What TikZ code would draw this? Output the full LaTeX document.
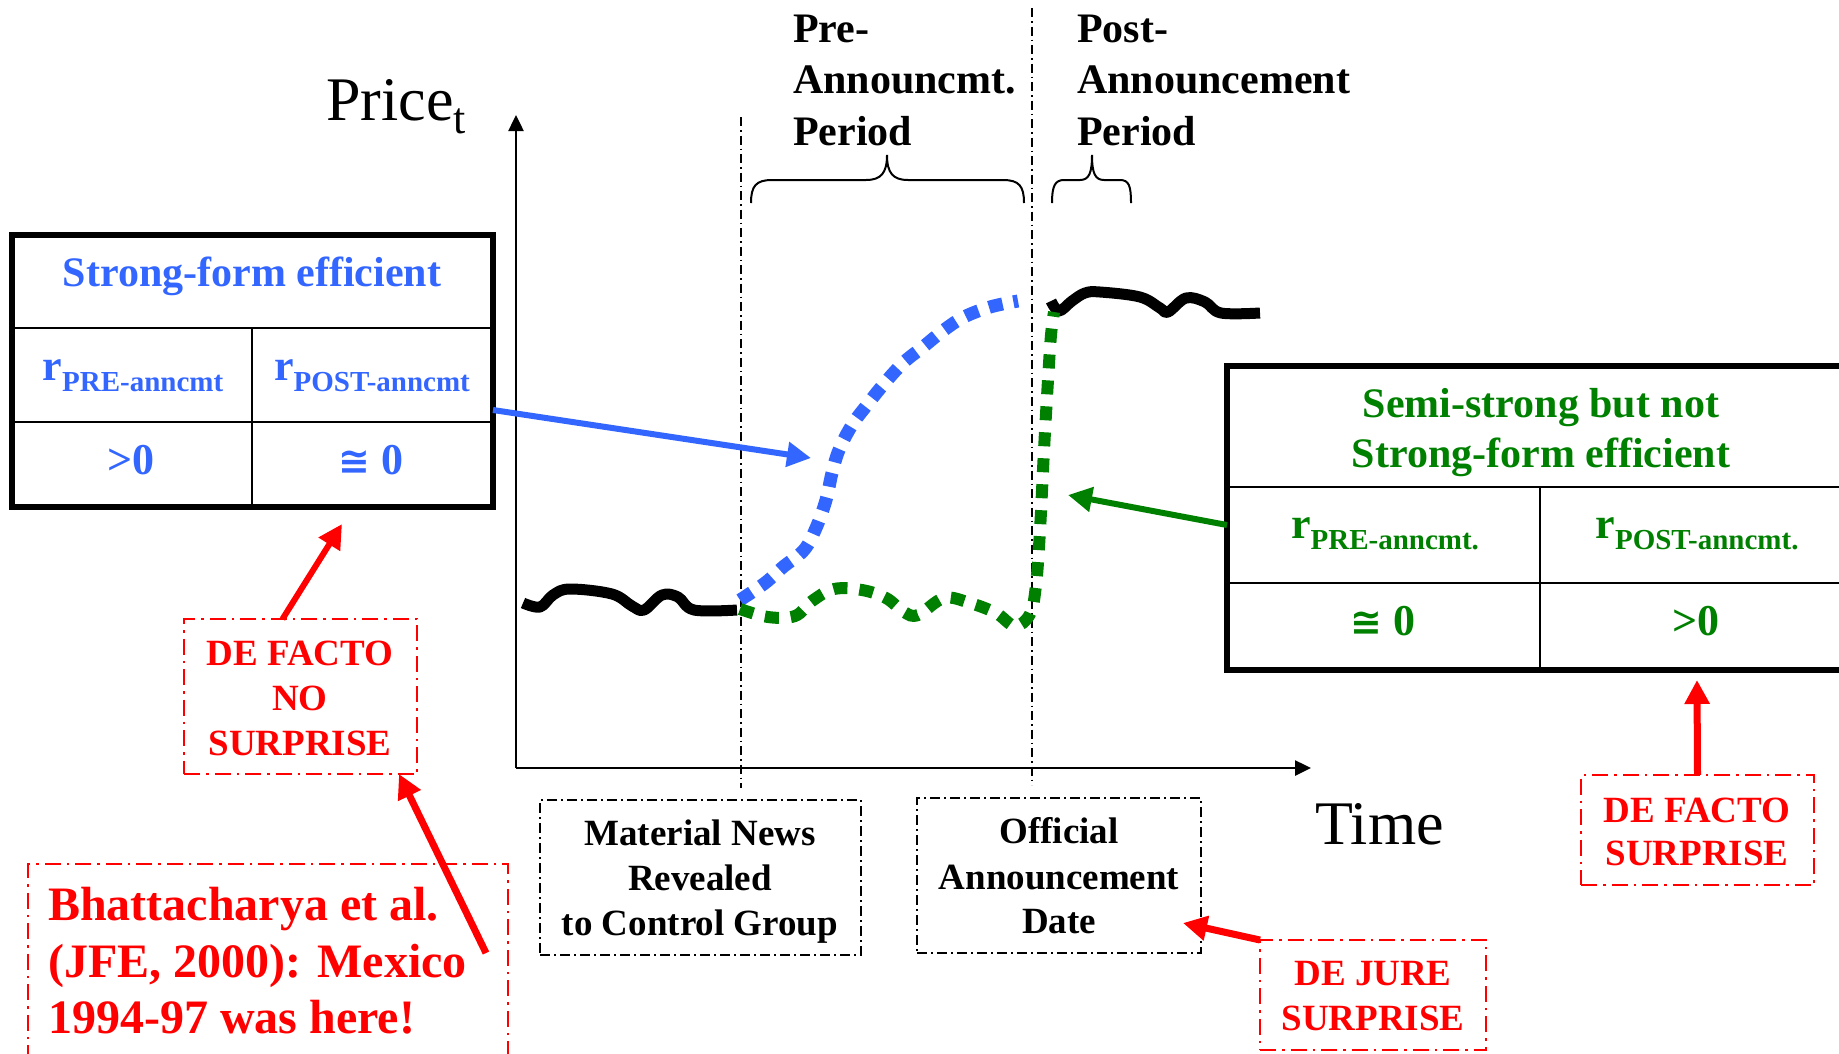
\documentclass[tikz,border=0pt]{standalone}
\usepackage{fontspec}
\setmainfont{Liberation Serif}
\newfontfamily\symfont{DejaVu Sans}
\usetikzlibrary{arrows.meta}
\definecolor{sfblue}{RGB}{51,102,255}
\definecolor{ssgreen}{RGB}{0,128,0}
\definecolor{alert}{RGB}{255,0,0}
\newcommand\fsz[1]{\fontsize{#1}{#1}\selectfont}
\newcommand\rsub[1]{r\raisebox{-11pt}{\fsz{29}#1}}
\newcommand\approxzero{{\symfont\fsz{38}≅} 0}

\begin{document}
\begin{tikzpicture}[x=1pt,y=-1pt,
  lbl/.style={inner sep=0pt, anchor=base, font=\bfseries\fsz{42}},
  cell/.style={inner sep=0pt, anchor=base, font=\bfseries\fsz{44}},
  boxlbl/.style={inner sep=0pt, anchor=base, font=\bfseries\fsz{37}},
  frame/.style={draw, rectangle, inner sep=0pt, outer sep=0pt},
  tablebox/.style={frame, line width=5.5pt},
  gridline/.style={line width=2.5pt},
  guide/.style={line width=1.3pt, dash pattern=on 9pt off 4pt on 1.5pt off 4pt},
  blackbox/.style={frame, line width=2pt, dash pattern=on 10pt off 4pt on 2pt off 4pt},
  redbox/.style={frame, draw=alert, line width=2.5pt, dash pattern=on 16pt off 6pt on 2.5pt off 6pt},
  axis/.style={line width=2.5pt, -{Triangle[length=16pt,width=15pt]}},
  pointer/.style={-{Triangle[length=24pt,width=24pt]}},
  price/.style={line width=11pt, line join=round},
  brace/.style={line width=2pt},
]
\useasboundingbox (0,0) rectangle (1839,1053);

% ---------- axes and event dates ----------
\coordinate (origin) at (516,768);
\coordinate (ytop) at (516,115);
\coordinate (xend) at (1311,768);
\draw[axis] (origin) -- (ytop);
\draw[axis] (origin) -- (xend);
\node[inner sep=0pt, anchor=base west, font=\fsz{62}] (pricelbl) at (326,120) {Price\raisebox{-13pt}{\fsz{44}t}};
\node[inner sep=0pt, anchor=base west, font=\fsz{62}] (timelbl) at (1315,844) {Time};

\draw[guide] (741,117) -- (741,788);
\draw[guide] (1032,8) -- (1032,785);

% ---------- period braces and labels ----------
\draw[brace] (751,203) .. controls (751,186) and (756,180) .. (772,180) -- (866,180)
  .. controls (881,180) and (887,173) .. (887,155) .. controls (887,173) and (893,180) .. (908,180)
  -- (1003,180) .. controls (1019,180) and (1024,186) .. (1024,203);
\draw[brace] (1052,203) .. controls (1052,186) and (1055,180) .. (1064,180) -- (1080,180)
  .. controls (1089,180) and (1092,173) .. (1092,155) .. controls (1092,173) and (1095,180) .. (1104,180)
  -- (1120,180) .. controls (1129,180) and (1131,186) .. (1131,203);

\node[lbl, anchor=base west] (pre1) at (793,42) {Pre-};
\node[lbl, anchor=base west] (pre2) at (793,93) {Announcmt.};
\node[lbl, anchor=base west] (pre3) at (793,145) {Period};
\node[lbl, anchor=base west] (post1) at (1077,42) {Post-};
\node[lbl, anchor=base west] (post2) at (1077,93) {Announcement};
\node[lbl, anchor=base west] (post3) at (1077,145) {Period};

% ---------- price paths ----------
\draw[price] plot[smooth, tension=0.6] coordinates {(523,603) (540,607) (553,595) (570,589) (612,594) (632,606) (644,610) (662,595) (678,597) (694,610) (737,610)};
\draw[price] plot[smooth, tension=0.6] coordinates {(1051,301) (1059,311) (1072,301) (1085,293) (1100,292) (1140,297) (1160,308) (1168,312) (1186,298) (1205,302) (1221,313) (1260,313)};
\draw[sfblue, line width=13pt, dash pattern=on 14pt off 11pt] plot[smooth, tension=0.6] coordinates {(740,600) (765,583) (783,567) (804,550) (816,528) (826,500) (832,473) (839,450) (852,425) (867,405) (883,385) (903,363) (923,347) (944,330) (964,317) (990,307) (1018,301)};
\draw[ssgreen, line width=12pt, dash pattern=on 14pt off 12pt] plot[smooth, tension=0.6] coordinates {(740,609) (768,617) (795,616) (812,601) (834,589) (862,590) (886,598) (904,612) (918,615) (944,598) (970,603) (996,613) (1015,626) (1030,614) (1036,585) (1040,530) (1044,450) (1048,380) (1051,335) (1054,312)};

% ---------- strong-form table ----------
\node[tablebox, minimum width=481pt, minimum height=272pt] (sf) at (252.5,371) {};
\draw[gridline] (12,328) -- (493,328);
\draw[gridline] (12,422) -- (493,422);
\draw[gridline] (252,328) -- (252,507);
\node[lbl, text=sfblue] (sftitle) at (252,286) {Strong-form efficient};
\node[cell, text=sfblue] (sfpre) at (133,380) {\rsub{PRE-anncmt}};
\node[cell, text=sfblue] (sfpost) at (372,380) {\rsub{POST-anncmt}};
\node[cell, text=sfblue] (sfprev) at (131,474) {>0};
\node[cell, text=sfblue] (sfpostv) at (371,474) {\approxzero};

% ---------- semi-strong table ----------
\node[tablebox, minimum width=626pt, minimum height=304pt] (ss) at (1540,518) {};
\draw[gridline] (1227,487) -- (1853,487);
\draw[gridline] (1227,583) -- (1853,583);
\draw[gridline] (1540,487) -- (1540,670);
\node[lbl, text=ssgreen] (sstitle1) at (1541,417) {Semi-strong but not};
\node[lbl, text=ssgreen] (sstitle2) at (1541,467) {Strong-form efficient};
\node[cell, text=ssgreen] (sspre) at (1385,538) {\rsub{PRE-anncmt.}};
\node[cell, text=ssgreen] (sspost) at (1697,538) {\rsub{POST-anncmt.}};
\node[cell, text=ssgreen] (ssprev) at (1383,635) {\approxzero};
\node[cell, text=ssgreen] (sspostv) at (1696,635) {>0};

% ---------- event boxes under the time axis ----------
\node[blackbox, minimum width=321pt, minimum height=155pt] (news) at (700.5,877.5) {};
\node[boxlbl] (news1) at (700,845) {Material News};
\node[boxlbl] (news2) at (700,890) {Revealed};
\node[boxlbl] (news3) at (700,935) {to Control Group};

\node[blackbox, minimum width=284pt, minimum height=155pt] (offic) at (1059,875.5) {};
\node[boxlbl] (offic1) at (1059,843) {Official};
\node[boxlbl] (offic2) at (1059,889) {Announcement};
\node[boxlbl] (offic3) at (1059,933) {Date};

% ---------- surprise call-outs ----------
\node[redbox, minimum width=233pt, minimum height=155pt] (nos) at (300.5,696.5) {};
\node[boxlbl, text=alert] (nos1) at (300,665) {DE FACTO};
\node[boxlbl, text=alert] (nos2) at (300,710) {NO};
\node[boxlbl, text=alert] (nos3) at (300,755) {SURPRISE};

\node[redbox, minimum width=480pt, minimum height=201pt] (bh) at (268,964.5) {};
\node[inner sep=0pt, anchor=base west, font=\bfseries\fsz{48}, text=alert] (bh1) at (48,920) {Bhattacharya et al.};
\node[inner sep=0pt, anchor=base west, font=\bfseries\fsz{48}, text=alert] (bh2) at (48,977) {(JFE, 2000): Mexico};
\node[inner sep=0pt, anchor=base west, font=\bfseries\fsz{48}, text=alert] (bh3) at (48,1033) {1994-97 was here!};

\node[redbox, minimum width=226pt, minimum height=110pt] (dj) at (1373,995) {};
\node[boxlbl, text=alert] (dj1) at (1373,985) {DE JURE};
\node[boxlbl, text=alert] (dj2) at (1373,1030) {SURPRISE};

\node[redbox, minimum width=233pt, minimum height=110pt] (dfs) at (1697.5,830) {};
\node[boxlbl, text=alert] (dfs1) at (1697,822) {DE FACTO};
\node[boxlbl, text=alert] (dfs2) at (1697,865) {SURPRISE};

% ---------- pointers ----------
\coordinate (bluetip) at (811,458);
\coordinate (greentip) at (1068,495);
\coordinate (nostip) at (342,524);
\coordinate (bhstart) at (486,953);
\coordinate (djtip) at (1183,923);
\coordinate (dftip) at (1697,680);

\draw[pointer, sfblue, line width=6pt] ([yshift=-39pt]sf.east) -- (bluetip);
\draw[pointer, ssgreen, line width=6pt] ([yshift=-7pt]ss.west) -- (greentip);
\draw[pointer, alert, line width=6pt] ([xshift=-18pt]nos.north) -- (nostip);
\draw[pointer, alert, line width=7pt] (bhstart) -- ([xshift=-18pt]nos.south east);
\draw[pointer, alert, line width=7pt] (dj.north west) -- (djtip);
\draw[pointer, alert, line width=7pt] (dfs.north) -- (dftip);
\end{tikzpicture}
\end{document}
